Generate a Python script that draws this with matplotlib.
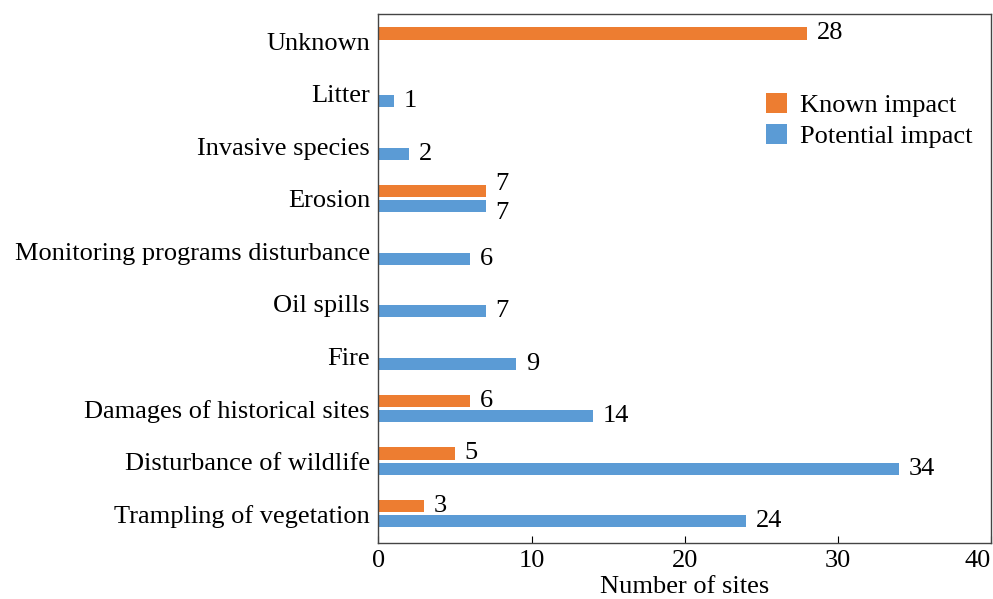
import matplotlib.pyplot as plt
import numpy as np

plt.rcParams['font.family'] = ['Liberation Serif', 'DejaVu Serif']

categories = ["Trampling of vegetation", "Disturbance of wildlife",
              "Damages of historical sites", "Fire", "Oil spills",
              "Monitoring programs disturbance", "Erosion",
              "Invasive species", "Litter", "Unknown"]
known = [3, 5, 6, 0, 0, 0, 7, 0, 0, 28]
potential = [24, 34, 14, 9, 7, 6, 7, 2, 1, 0]

ORANGE = '#ED7D31'
BLUE = '#5B9BD5'
FS = 19

fig = plt.figure(figsize=(9.93, 5.99), dpi=100)
ax = fig.add_axes([0.381, 0.0935, 0.617, 0.8835])

y = np.arange(len(categories))
off = 0.145
h = 0.23

kb = ax.barh(y + off, known, height=h, color=ORANGE, label='Known impact')
pb = ax.barh(y - off, potential, height=h, color=BLUE, label='Potential impact')

# value labels, pushed apart a little when both labels sit at the same x
for bars, vals, other, sign in ((kb, known, potential, 1), (pb, potential, known, -1)):
    for b, v, o in zip(bars, vals, other):
        if v > 0:
            dy = 5 * sign if v == o else 0
            ax.annotate(str(v), (b.get_width(), b.get_y() + b.get_height() / 2),
                        xytext=(7, dy), textcoords='offset points',
                        ha='left', va='center', fontsize=FS)

ax.set_yticks(y, labels=categories)
ax.set_xlim(0, 40)
ax.set_ylim(-0.56, 9.52)
ax.set_xticks([0, 10, 20, 30, 40])
ax.tick_params(axis='x', direction='in', length=5, labelsize=FS, pad=5)
ax.tick_params(axis='y', length=0, labelsize=FS, pad=6)
ax.get_xticklabels()[-1].set_horizontalalignment('right')
ax.set_xlabel('Number of sites', fontsize=FS, labelpad=3)

for s in ax.spines.values():
    s.set_color('#444444')
    s.set_linewidth(1.0)

ax.legend(loc='upper right', bbox_to_anchor=(1.0, 0.885), frameon=False,
          fontsize=FS, handlelength=0.8, handleheight=0.8,
          handletextpad=0.5, labelspacing=0.25, borderaxespad=0.3)

fig.savefig('out.png', dpi=100)
